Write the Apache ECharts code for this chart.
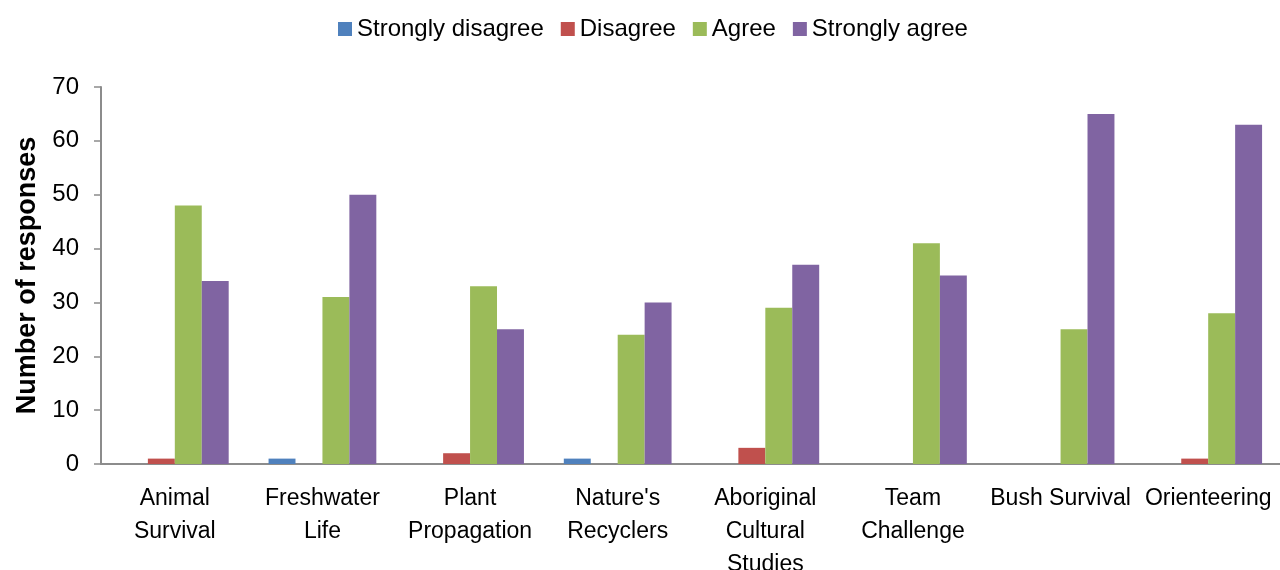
<!DOCTYPE html>
<html>
<head>
<meta charset="utf-8">
<script src="https://cdn.jsdelivr.net/npm/echarts@6/dist/echarts.min.js"></script>
<style>
  html, body { margin: 0; padding: 0; background: #fff; }
  #chart { width: 1280px; height: 570px; }
</style>
</head>
<body>
<div id="chart"></div>
<script>
// Survey responses per activity
const categories = [
  'Animal\nSurvival',
  'Freshwater\nLife',
  'Plant\nPropagation',
  "Nature's\nRecyclers",
  'Aboriginal\nCultural\nStudies',
  'Team\nChallenge',
  'Bush Survival',
  'Orienteering'
];
const stronglyDisagree = [0, 1, 0, 1, 0, 0, 0, 0];
const disagree         = [1, 0, 2, 0, 3, 0, 0, 1];
const agree            = [48, 31, 33, 24, 29, 41, 25, 28];
const stronglyAgree    = [34, 50, 25, 30, 37, 35, 65, 63];
const yTicks = { min: 0, max: 70, interval: 10 };

const FONT = '"Liberation Sans", Arial, sans-serif';

const chart = echarts.init(document.getElementById('chart'), null, { renderer: 'canvas' });

function barSeries(name, data, color) {
  return {
    name: name,
    type: 'bar',
    data: data,
    barGap: '0%',
    barCategoryGap: '27%',
    itemStyle: { color: color },
    animation: false
  };
}

chart.setOption({
  animation: false,
  textStyle: { fontFamily: FONT },
  legend: {
    top: 12,
    left: 333,
    itemWidth: 14,
    itemHeight: 14,
    itemGap: 17,
    icon: 'rect',
    textStyle: { fontSize: 24, color: '#000', fontFamily: FONT },
    data: ['Strongly disagree', 'Disagree', 'Agree', 'Strongly agree']
  },
  grid: { left: 101, right: -2, top: 87, bottom: 106, containLabel: false, outerBoundsMode: 'none' },
  xAxis: {
    type: 'category',
    data: categories,
    axisLine: { lineStyle: { color: '#8c8c8c', width: 2 } },
    axisTick: { show: false },
    axisLabel: {
      color: '#000',
      fontSize: 23,
      fontFamily: FONT,
      lineHeight: 33,
      margin: 18,
      interval: 0
    }
  },
  yAxis: {
    type: 'value',
    min: yTicks.min,
    max: yTicks.max,
    interval: yTicks.interval,
    name: 'Number of responses',
    nameLocation: 'middle',
    nameGap: 55,
    nameTextStyle: { fontSize: 27, fontWeight: 'bold', color: '#000', fontFamily: FONT },
    axisLine: { show: true, lineStyle: { color: '#8c8c8c', width: 2 } },
    axisTick: { show: true, length: 7, lineStyle: { color: '#8c8c8c', width: 1.5 } },
    splitLine: { show: false },
    axisLabel: { color: '#000', fontSize: 24, fontFamily: FONT, margin: 22 }
  },
  series: [
    barSeries('Strongly disagree', stronglyDisagree, '#4F81BD'),
    barSeries('Disagree', disagree, '#C0504D'),
    barSeries('Agree', agree, '#9BBB59'),
    barSeries('Strongly agree', stronglyAgree, '#8064A2')
  ]
});
</script>
</body>
</html>
